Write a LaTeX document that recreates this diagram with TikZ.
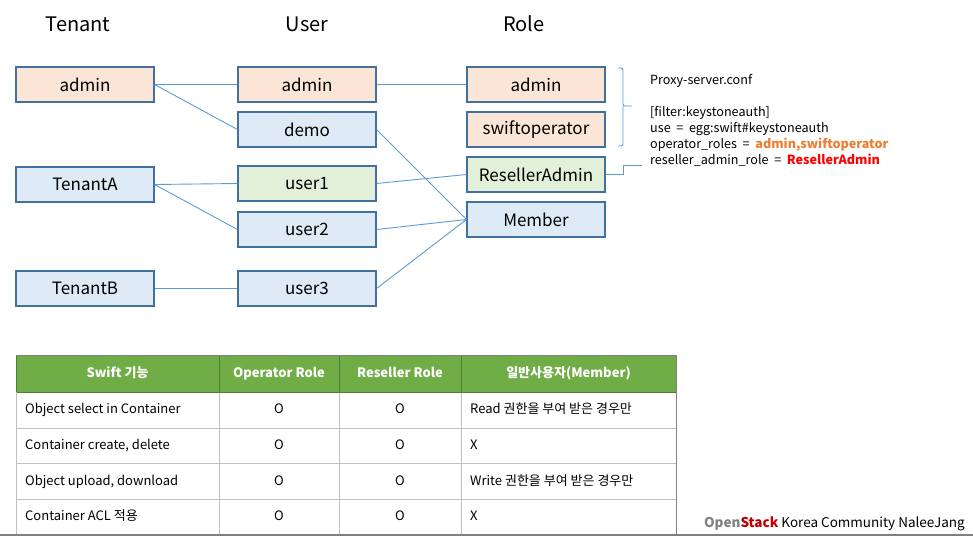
\documentclass[tikz,border=0pt]{standalone}
\usepackage{fontspec}
\setmainfont{Noto Sans CJK KR}
\usepackage{tikz}
\usetikzlibrary{positioning}
\definecolor{boxline}{HTML}{41719C}
\definecolor{connline}{HTML}{5B9BD5}
\definecolor{orangefill}{HTML}{FBE5D6}
\definecolor{bluefill}{HTML}{DEEBF7}
\definecolor{greenfill}{HTML}{E2F0D9}
\definecolor{headgreen}{HTML}{70AD47}
\definecolor{darkgreen}{HTML}{507E32}
\definecolor{cellline}{HTML}{BFBFBF}
\definecolor{opcolor}{HTML}{ED7D31}
\definecolor{stackred}{HTML}{C00000}
\newcommand{\confsize}{\fontsize{12.6}{15}\selectfont\spaceskip=0.45em\relax}

\begin{document}
\begin{tikzpicture}[x=1pt, y=-1pt,
		ent/.style={draw=boxline, line width=1.2pt, minimum width=138pt, minimum height=35pt, inner sep=0pt, font=\fontsize{17}{20}\selectfont},
		conn/.style={draw=connline, line width=0.9pt},
		title/.style={anchor=base, font=\fontsize{20}{24}\selectfont},
		conf/.style={anchor=base west, inner sep=0pt, font=\confsize},
		cell/.style={inner sep=0pt, text height=9pt, text depth=2.5pt, font=\fontsize{13}{15}\selectfont},
		head/.style={cell, text=white, font=\fontsize{13}{15}\selectfont\bfseries}]
		\useasboundingbox (0,0) rectangle (973,536);
		\node [title] (htenant) at (78,31) {Tenant};
		\node [title] (huser) at (307,31) {User};
		\node [title] (hrole) at (524,31) {Role};
		\node [ent, fill=orangefill] (tadmin) at (85,84.5) {admin};
		\node [ent, fill=bluefill] (ta) at (85,184.5) {TenantA};
		\node [ent, fill=bluefill] (tb) at (85,288.5) {TenantB};
		\node [ent, fill=orangefill] (uadmin) at (307,84.5) {admin};
		\node [ent, fill=bluefill] (demo) at (307,129.5) {demo};
		\node [ent, fill=greenfill] (user1) at (307,183.5) {user1};
		\node [ent, fill=bluefill] (user2) at (307,229.5) {user2};
		\node [ent, fill=bluefill] (user3) at (307,288.5) {user3};
		\node [ent, fill=orangefill] (radmin) at (536,84.5) {admin};
		\node [ent, fill=orangefill] (swiftop) at (536,129.5) {swiftoperator};
		\node [ent, fill=greenfill] (reseller) at (536,174.5) {ResellerAdmin};
		\node [ent, fill=bluefill] (member) at (536,219.5) {Member};
		\draw [conn] (tadmin.east) -- (uadmin.west);
		\draw [conn] (tadmin.east) -- (demo.west);
		\draw [conn] (ta.east) -- (user1.west);
		\draw [conn] (ta.east) -- (user2.west);
		\draw [conn] (tb.east) -- (user3.west);
		\draw [conn] (uadmin.east) -- (radmin.west);
		\draw [conn] (demo.east) -- (member.west);
		\draw [conn] (user1.east) -- (reseller.west);
		\draw [conn] (user2.east) -- (member.west);
		\draw [conn] (user3.east) -- (member.west);
		\draw [conn, rounded corners=2pt] (618,68) -- (623,68) -- (623,106) -- (632,106) (623,106) -- (623,146) -- (618,146);
		\node [conf] (cf1) at (650,84) {Proxy-server.conf};
		\node [conf] (cf2) at (650,116) {[filter:keystoneauth]};
		\node [conf] (cf3) at (650,132) {use = egg:swift\#keystoneauth};
		\node [conf] (cf4) at (650,148) {operator\_roles = {\bfseries\color{opcolor}admin,swiftoperator}};
		\node [conf] (cf5) at (650,164.5) {reseller\_admin\_role = {\bfseries\color{red}ResellerAdmin}};
		\coordinate (resend) at (642,165);
		\draw [conn] (reseller.east) -- ++(18,0) |- (resend);
		\fill [headgreen] (16,355) rectangle (676,392);
		\foreach \y in {428,463,499}
			\draw [cellline] (16,\y) -- (676,\y);
		\foreach \x in {219,339,461}{
			\draw [darkgreen] (\x,355) -- (\x,392);
			\draw [cellline] (\x,392) -- (\x,535);
		}
		\draw [darkgreen] (16,392) -- (676,392);
		\draw [darkgreen] (16,355) -- (16,392);
		\draw [cellline] (16,392) -- (16,535);
		\draw [gray] (16,355) -- (676,355) -- (676,535);
		\draw [gray, line width=1.2pt] (0,535) -- (973,535);
		\foreach \hd/\x [count=\c] in {Swift 기능/117.5, Operator Role/279, Reseller Role/400, 일반사용자(Member)/568.5}
			\node [head] (hd\c) at (\x,374) {\hd};
		\foreach \feat/\memb [count=\r] in {{Object select in Container}/{Read 권한을 부여 받은 경우만}, {Container create, delete}/X, {Object upload, download}/{Write 권한을 부여 받은 경우만}, {Container ACL 적용}/X}{
			\node [cell, anchor=west] (feat\r) at (25,374.5+35.75*\r) {\feat};
			\node [cell] (op\r) at (279,374.5+35.75*\r) {O};
			\node [cell] (rs\r) at (400,374.5+35.75*\r) {O};
			\node [cell, anchor=west] (mb\r) at (470,374.5+35.75*\r) {\memb};
		}
		\node [anchor=base east, inner sep=0pt, font=\fontsize{13.5}{16}\selectfont] (credit) at (965,527) {{\bfseries\color{gray}Open}{\bfseries\color{stackred}Stack} Korea Community NaleeJang};
	\end{tikzpicture}
\end{document}
